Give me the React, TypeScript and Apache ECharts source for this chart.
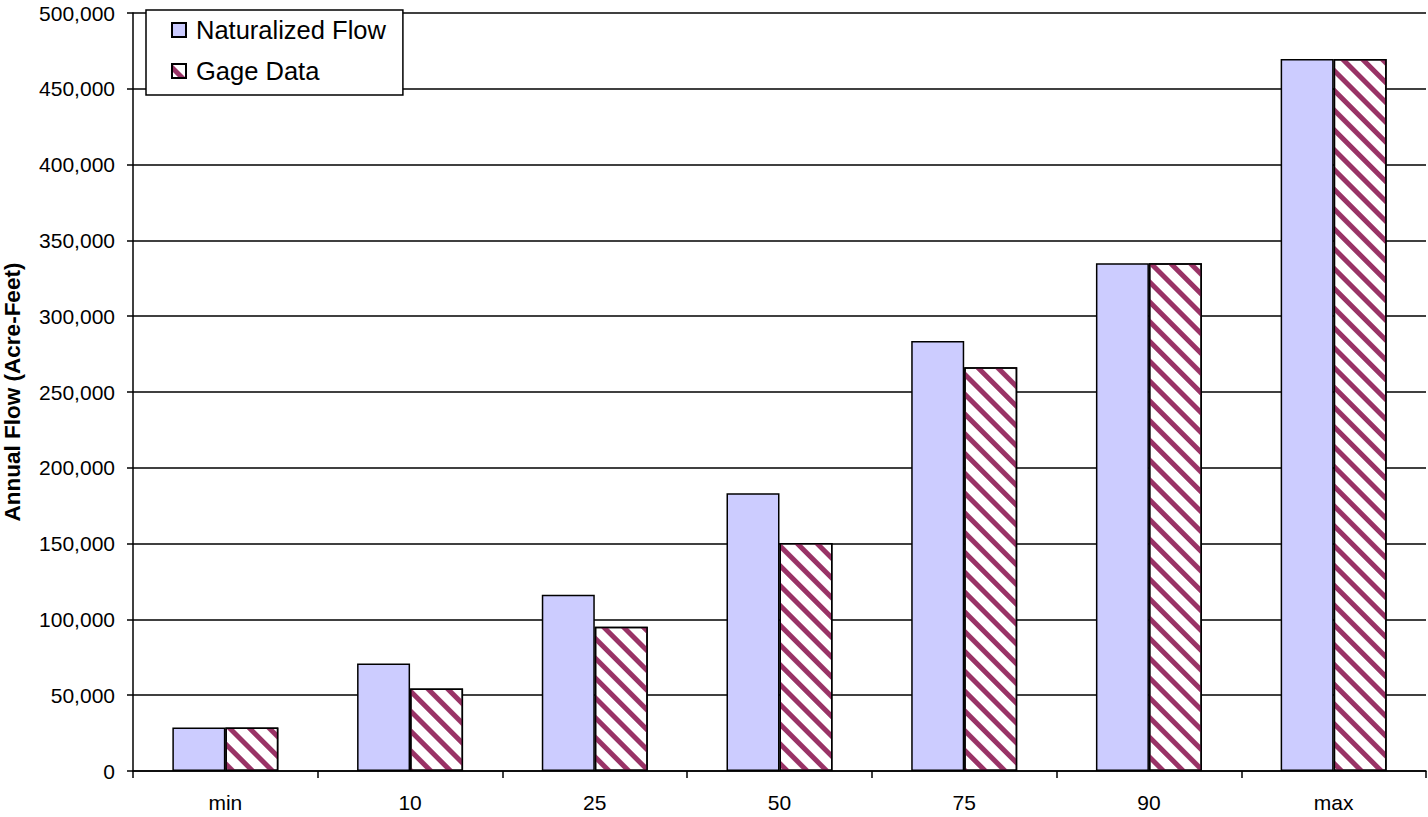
import React, { useEffect, useRef } from "react";
import * as echarts from "echarts";

// Annual flow percentiles (acre-feet)
const categories = ["min", "10", "25", "50", "75", "90", "max"];
const naturalizedFlow = [28700, 70900, 116200, 183200, 283600, 334900, 469600];
const gageData = [28700, 54400, 95100, 150400, 266400, 334900, 469600];
const yTicks = { min: 0, max: 500000, step: 50000 };

const FONT = "'Liberation Sans', Arial, Helvetica, sans-serif";

export default function App() {
  const ref = useRef<HTMLDivElement>(null);

  useEffect(() => {
    if (!ref.current) return;
    const chart = echarts.init(ref.current, null, { renderer: "svg" });
    chart.setOption({
      animation: false,
      backgroundColor: "#ffffff",
      textStyle: { fontFamily: FONT, color: "#000" },
      grid: {
        left: 133,
        right: 2,
        top: 13,
        bottom: 46,
        containLabel: false,
        outerBoundsMode: "none",
      },
      legend: {
        orient: "vertical",
        left: 146,
        top: 10,
        padding: [7, 17, 11, 25],
        borderColor: "#000",
        borderWidth: 1.5,
        backgroundColor: "#fff",
        itemWidth: 14,
        itemHeight: 14,
        itemGap: 15,
        selectedMode: false,
        icon: "rect",
        textStyle: {
          fontFamily: FONT,
          fontSize: 25.5,
          lineHeight: 26,
          color: "#000",
          padding: [0, 0, 0, 5],
        },
        data: ["Naturalized Flow", "Gage Data"],
      },
      xAxis: {
        type: "category",
        data: categories,
        boundaryGap: true,
        axisLine: { lineStyle: { color: "#000", width: 1.5 } },
        axisTick: { show: true, length: 7, alignWithLabel: false, lineStyle: { color: "#000", width: 1.5 } },
        axisLabel: { fontFamily: FONT, fontSize: 21, color: "#000", margin: 21 },
        splitLine: { show: false },
      },
      yAxis: {
        type: "value",
        min: yTicks.min,
        max: yTicks.max,
        interval: yTicks.step,
        name: "Annual Flow (Acre-Feet)",
        nameLocation: "middle",
        nameGap: 109,
        nameTextStyle: { fontFamily: FONT, fontSize: 22.5, fontWeight: "bold", color: "#000" },
        axisLine: { show: true, lineStyle: { color: "#000", width: 1.5 } },
        axisTick: { show: true, length: 6, lineStyle: { color: "#000", width: 1.5 } },
        axisLabel: {
          fontFamily: FONT,
          fontSize: 21,
          color: "#000",
          margin: 18,
          formatter: (v: number) => v.toLocaleString("en-US"),
        },
        splitLine: { show: true, lineStyle: { color: "#000", width: 1.5 } },
      },
      series: [
        {
          name: "Naturalized Flow",
          type: "bar",
          data: naturalizedFlow,
          barWidth: 53,
          barGap: "0%",
          itemStyle: { color: "#CCCCFF", borderColor: "#000", borderWidth: 1.5 },
        },
        {
          name: "Gage Data",
          type: "bar",
          data: gageData,
          barWidth: 53,
          barGap: "0%",
          itemStyle: {
            color: "#ffffff",
            borderColor: "#000",
            borderWidth: 1.5,
            decal: {
              symbol: "rect",
              symbolSize: 1,
              color: "#993366",
              dashArrayX: [1, 0],
              dashArrayY: [5, 9],
              rotation: Math.PI / 4,
            },
          },
        },
      ],
    });
    return () => chart.dispose();
  }, []);

  return (
    <div
      ref={ref}
      style={{ position: "fixed", left: 0, top: 0, width: 1428, height: 817, background: "#fff" }}
    />
  );
}
